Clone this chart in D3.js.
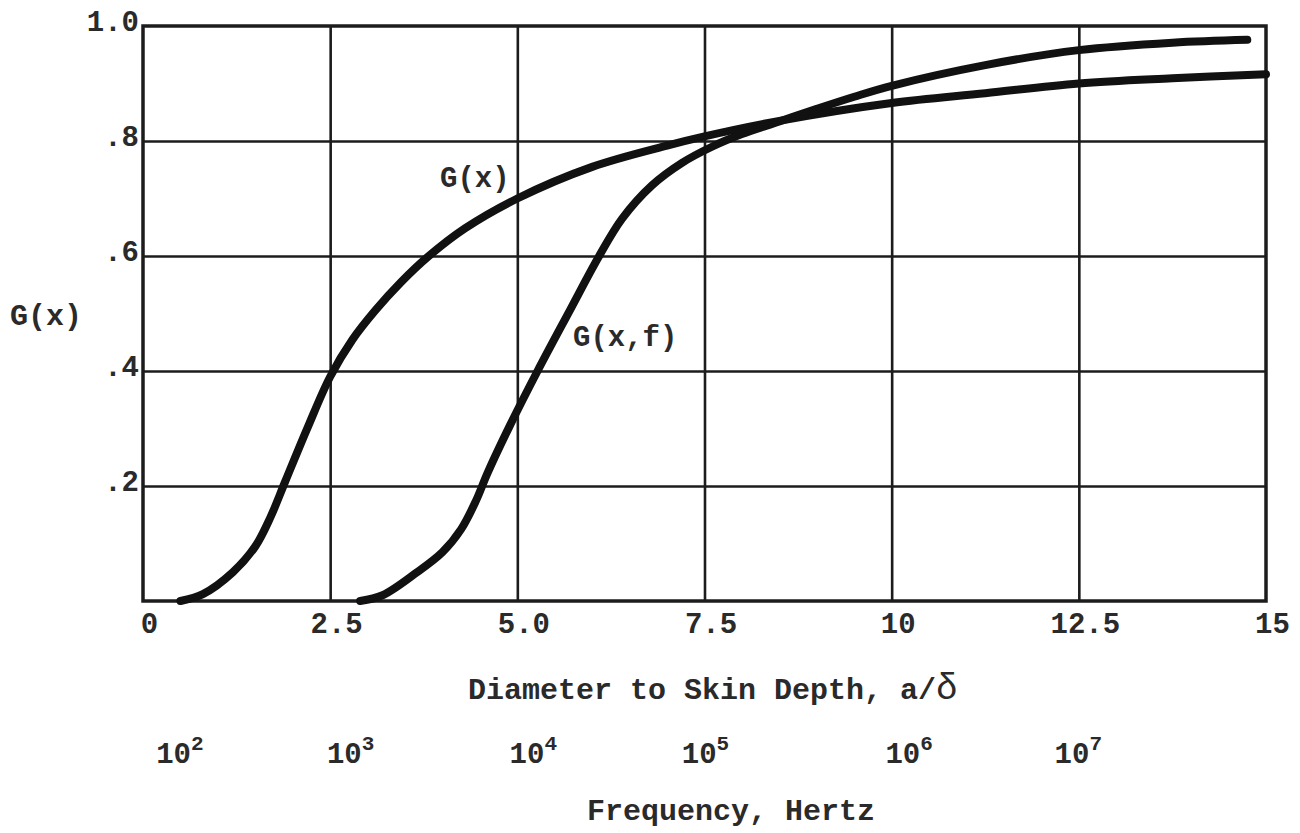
<!DOCTYPE html>
<html>
<head>
	<script src="https://cdn.jsdelivr.net/npm/d3@7"></script>
	<style>
		html, body {
			padding: 0;
			margin: 0;
			background: #fff;
		}
		text {
			font-family: "Liberation Mono", monospace;
			font-weight: bold;
			fill: #2a2a2a;
		}
	</style>
</head>
<body>
	<script>
		var width = 1300,
			height = 833;

		// ~ ~ ~ DATA ~ ~ ~
		// G(x): ratio vs diameter-to-skin-depth a/delta
		const gxX = [0.5, 0.8, 1.2, 1.5, 1.7, 1.9, 2.2, 2.5, 2.8, 3.1, 3.45, 3.8, 4.3, 5.0, 6.0, 7.0, 7.5, 8.5, 10.0, 11.25, 12.5, 13.75, 15.0];
		const gxY = [0.0, 0.012, 0.05, 0.095, 0.145, 0.208, 0.302, 0.39, 0.455, 0.505, 0.555, 0.598, 0.648, 0.70, 0.755, 0.792, 0.808, 0.835, 0.866, 0.883, 0.9, 0.909, 0.916];

		// G(x,f)
		const gxfX = [2.9, 3.2, 3.66, 4.0, 4.25, 4.45, 4.6, 4.9, 5.27, 5.7, 6.08, 6.4, 6.8, 7.2, 7.6, 8.0, 8.5, 9.0, 9.5, 10.0, 11.25, 12.5, 13.75, 14.75];
		const gxfY = [0.0, 0.01, 0.05, 0.085, 0.125, 0.175, 0.222, 0.305, 0.4, 0.505, 0.597, 0.665, 0.723, 0.762, 0.79, 0.812, 0.834, 0.856, 0.877, 0.896, 0.932, 0.958, 0.971, 0.976];

		const xTicks = [0, 2.5, 5, 7.5, 10, 12.5, 15];
		const xTickLabels = ["0", "2.5", "5.0", "7.5", "10", "12.5", "15"];
		const yTicks = [0.2, 0.4, 0.6, 0.8, 1.0];
		const yTickLabels = [".2", ".4", ".6", ".8", "1.0"];

		// frequency scale, placed along a/delta
		const freqPos = [0.39, 2.67, 5.11, 7.41, 10.13, 12.39];
		const freqExp = ["2", "3", "4", "5", "6", "7"];

		// ~ ~ ~ LAYOUT ~ ~ ~
		const PLOT = { left: 143, right: 1266, top: 26, bottom: 601 };
		const INK = "#1c1c1c";

		var svg = d3.select("body").append("svg")
			.attr("width", width)
			.attr("height", height)
			.style("background-color", "white");

		var x = d3.scaleLinear().domain([0, 15]).range([PLOT.left, PLOT.right]);
		var y = d3.scaleLinear().domain([0, 1]).range([PLOT.bottom, PLOT.top]);

		// grid
		svg.append("g")
			.attr("transform", "translate(0," + PLOT.bottom + ")")
			.call(d3.axisBottom(x).tickValues(xTicks.slice(1, -1)).tickSize(-(PLOT.bottom - PLOT.top)).tickFormat(""))
			.call(g => g.select(".domain").remove())
			.call(g => g.selectAll("line").attr("stroke", INK).attr("stroke-width", 2.6));

		svg.append("g")
			.attr("transform", "translate(" + PLOT.left + ",0)")
			.call(d3.axisLeft(y).tickValues(yTicks.slice(0, -1)).tickSize(-(PLOT.right - PLOT.left)).tickFormat(""))
			.call(g => g.select(".domain").remove())
			.call(g => g.selectAll("line").attr("stroke", INK).attr("stroke-width", 2.6));

		// frame
		svg.append("rect")
			.attr("x", PLOT.left)
			.attr("y", PLOT.top)
			.attr("width", PLOT.right - PLOT.left)
			.attr("height", PLOT.bottom - PLOT.top)
			.attr("fill", "none")
			.attr("stroke", INK)
			.attr("stroke-width", 3.5);

		// tick labels
		svg.append("g")
			.attr("transform", "translate(" + PLOT.left + ",0)")
			.call(d3.axisLeft(y).tickValues(yTicks).tickFormat((d, i) => yTickLabels[i]).tickSize(0).tickPadding(4))
			.call(g => g.select(".domain").remove())
			.call(g => g.selectAll("text")
				.attr("dy", "0.15em")
				.attr("fill", "#2a2a2a")
				.style("font-size", "29px")
				.style("font-family", null));

		svg.append("g")
			.attr("transform", "translate(0," + PLOT.bottom + ")")
			.call(d3.axisBottom(x).tickValues(xTicks).tickFormat((d, i) => xTickLabels[i]).tickSize(0).tickPadding(11))
			.call(g => g.select(".domain").remove())
			.call(g => g.selectAll("text")
				.attr("dx", 6)
				.attr("fill", "#2a2a2a")
				.style("font-size", "29px")
				.style("font-family", null));

		// curves
		var line = d3.line()
			.x(d => x(d[0]))
			.y(d => y(d[1]))
			.curve(d3.curveCatmullRom.alpha(0.5));

		[[gxX, gxY], [gxfX, gxfY]].forEach(function(s) {
			svg.append("path")
				.datum(d3.zip(s[0], s[1]))
				.attr("d", line)
				.attr("fill", "none")
				.attr("stroke", "#111")
				.attr("stroke-width", 8)
				.attr("stroke-linecap", "round")
				.attr("stroke-linejoin", "round");
		});

		// curve labels
		svg.append("text").attr("x", 440).attr("y", 187).style("font-size", "29px").text("G(x)");
		svg.append("text").attr("x", 573).attr("y", 346).style("font-size", "29px").text("G(x,f)");

		// y axis title
		svg.append("text").attr("x", 10).attr("y", 325).style("font-size", "30px").text("G(x)");

		// x axis title
		svg.append("text").attr("x", 468).attr("y", 699).style("font-size", "30px")
			.text("Diameter to Skin Depth, a/")
			.append("tspan").style("font-size", "36px").style("font-weight", "normal").text("δ");

		// frequency labels
		var freq = svg.append("g").selectAll("text")
			.data(freqPos)
			.enter().append("text")
			.attr("x", d => x(d) - 16)
			.attr("y", 763)
			.style("font-size", "29px")
			.text("10");
		freq.append("tspan")
			.attr("dy", -13)
			.style("font-size", "21px")
			.text((d, i) => freqExp[i]);

		svg.append("text").attr("x", 587).attr("y", 820).style("font-size", "30px").text("Frequency, Hertz");
	</script>
</body>
</html>
